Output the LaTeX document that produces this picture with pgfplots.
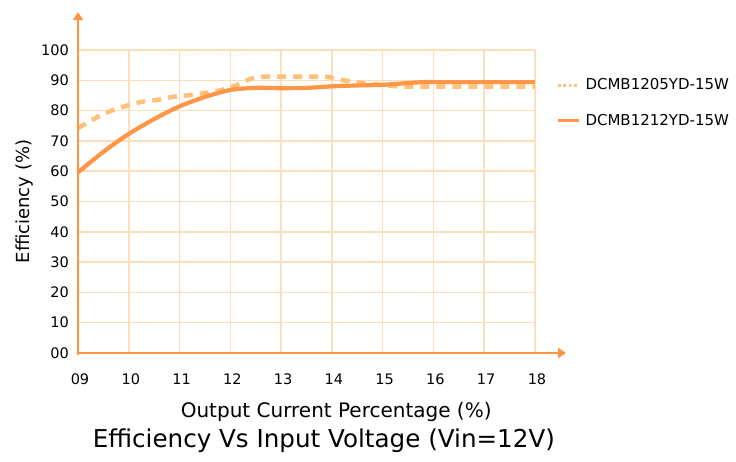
\documentclass[border=0pt]{standalone}
\usepackage{fontspec}
\setmainfont{DejaVu Sans}
\usepackage{pgfplots}
\pgfplotsset{compat=1.18}
\usetikzlibrary{arrows.meta}
\definecolor{axisc}{RGB}{255,148,66}
\definecolor{solidc}{RGB}{255,150,70}
\definecolor{dashc}{RGB}{255,192,122}
\definecolor{gridc}{RGB}{253,222,186}
\begin{document}
\begin{tikzpicture}
\begin{axis}[
 scale only axis, width=457bp, height=303bp,
 xmin=9, xmax=18, ymin=0, ymax=100,
 xtick={9,10,11,12,13,14,15,16,17,18},
 xticklabels={09,10,11,12,13,14,15,16,17,18},
 ytick={0,10,20,30,40,50,60,70,80,90,100},
 yticklabels={00,10,20,30,40,50,60,70,80,90,100},
 major tick length=0pt,
 grid=major, grid style={gridc, line width=1.5bp},
 axis line style={draw=none},
 clip=false,
 tick label style={font=\fontsize{14.5bp}{16bp}\selectfont, text=black},
 xticklabel style={anchor=center, yshift=-26bp, xshift=2bp},
 yticklabel style={anchor=east, inner sep=0pt, xshift=-9bp},
 xlabel={Output Current Percentage (\%)},
 xlabel style={at={(axis description cs:0.565,-0.195)}, anchor=center, font=\fontsize{20bp}{24bp}\selectfont},
 ylabel={Efficiency (\%)},
 ylabel style={at={(axis description cs:-0.116,0.5)}, anchor=center, font=\fontsize{18bp}{22bp}\selectfont},
 title={Efficiency Vs Input Voltage (Vin=12V)},
 title style={at={(axis description cs:0.538,-0.31)}, anchor=center, font=\fontsize{24.6bp}{28bp}\selectfont},
 legend style={draw=none, fill=none, at={(axis description cs:1.046,0.912)}, anchor=north west,
   inner sep=0pt, row sep=19bp, font=\fontsize{15bp}{18bp}\selectfont,
   /tikz/every odd column/.append style={column sep=3bp}},
 legend cell align=left,
]
\addplot[dashc, line width=4.5bp, dash pattern=on 9bp off 7bp, smooth,
  legend image code/.code={\draw[dashc, line width=2.7bp, dash pattern=on 2.7bp off 2.7bp] (0bp,0bp) -- (21bp,0bp);}]
 coordinates {(9,74.2) (9.5,78.9) (9.9,81.3) (10.25,82.9) (10.55,83.5) (10.9,84.6) (11.2,85.1) (11.5,85.8) (11.83,86.8) (12.12,88.4) (12.42,90.6) (12.7,91.2) (13.4,91.2) (13.9,91.1) (14.2,90.1) (14.55,89.2) (14.9,88.6) (15.3,88) (16,87.9) (17,87.9) (18,87.9)};
\addlegendentry{DCMB1205YD-15W}
\addplot[solidc, line width=4.2bp, smooth,
  legend image code/.code={\draw[solidc, line width=3.3bp] (0bp,0bp) -- (21bp,0bp);}]
 coordinates {(9,59.6) (9.5,66.4) (10,72.3) (10.5,77.2) (11,81.4) (11.5,84.5) (12,86.8) (12.5,87.5) (13,87.4) (13.5,87.5) (14,88) (14.5,88.3) (15,88.5) (15.5,89.1) (15.8,89.4) (16,89.4) (17,89.4) (18,89.4)};
\addlegendentry{DCMB1212YD-15W}
\draw[axisc, line width=2.5bp, -{Triangle[width=10bp,length=8bp]}] (rel axis cs:0,-0.006) -- (rel axis cs:0,1.125);
\draw[axisc, line width=2.5bp, -{Triangle[width=10bp,length=8bp]}] (rel axis cs:-0.003,0) -- (rel axis cs:1.068,0);
\coordinate (O) at (rel axis cs:0,0);
\end{axis}
\pgfresetboundingbox
\path ([shift={(-78bp,-109bp)}]O) rectangle ([shift={(658bp,353bp)}]O);
\end{tikzpicture}
\end{document}
